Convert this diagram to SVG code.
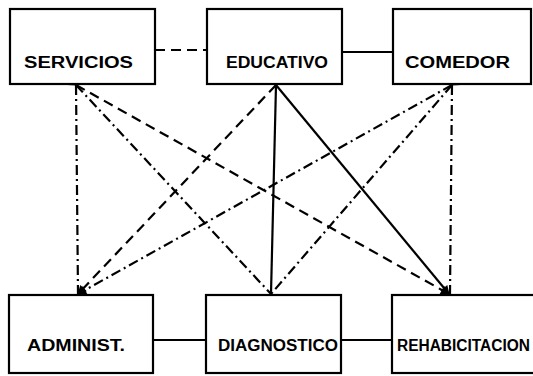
<svg xmlns="http://www.w3.org/2000/svg" width="533" height="376" viewBox="0 0 533 376">
<style>
.box{fill:#fff;stroke:#000;stroke-width:2.2}
.lbl{font-family:"Liberation Sans",Arial,sans-serif;font-weight:bold;font-size:16px;fill:#000}
.c{fill:none;stroke:#000;stroke-width:2.2}
.solid{stroke-width:2.2}
.dash{stroke-dasharray:10 6}
.dd{stroke-dasharray:10 4 2 4}
</style>
<defs>
<marker id="ah" viewBox="0 0 10 10" refX="9" refY="5" markerWidth="11" markerHeight="9" markerUnits="userSpaceOnUse" orient="auto">
<path d="M0,0 L10,5 L0,10 Z" fill="#000"/>
</marker>
</defs>
<rect width="533" height="376" fill="#fff"/>
<g id="connectors">
<line class="c dash" x1="155" y1="50" x2="207" y2="50"/>
<line class="c solid" x1="342" y1="52" x2="393" y2="52"/>
<line class="c solid" x1="153" y1="340" x2="206" y2="340"/>
<line class="c solid" x1="341" y1="340" x2="392" y2="340"/>
<line class="c dd" x1="76" y1="85" x2="78" y2="294"/>
<line class="c dash" x1="76" y1="85" x2="449" y2="294" marker-start="url(#ah)" marker-end="url(#ah)"/>
<line class="c dd" x1="76" y1="85" x2="271" y2="294" marker-start="url(#ah)"/>
<line class="c dash" x1="276" y1="85" x2="78" y2="294" marker-end="url(#ah)"/>
<line class="c solid" x1="276" y1="85" x2="271" y2="294" marker-start="url(#ah)"/>
<line class="c solid" x1="276" y1="85" x2="449" y2="294" marker-end="url(#ah)"/>
<line class="c dd" x1="452" y1="85" x2="78" y2="294" marker-start="url(#ah)" marker-end="url(#ah)"/>
<line class="c dd" x1="452" y1="85" x2="271" y2="294" marker-start="url(#ah)"/>
<line class="c dd" x1="452" y1="85" x2="450" y2="294"/>
</g>
<g id="servicios">
<rect class="box" x="10" y="9" width="145" height="75"/>
<text class="lbl" x="24" y="68" textLength="109" lengthAdjust="spacingAndGlyphs">SERVICIOS</text>
</g>
<g id="educativo">
<rect class="box" x="207" y="9" width="135" height="75"/>
<text class="lbl" x="226" y="68" textLength="102" lengthAdjust="spacingAndGlyphs">EDUCATIVO</text>
</g>
<g id="comedor">
<rect class="box" x="393" y="9" width="138" height="75"/>
<text class="lbl" x="405" y="68" textLength="105" lengthAdjust="spacingAndGlyphs">COMEDOR</text>
</g>
<g id="administ">
<rect class="box" x="9" y="295" width="144" height="78"/>
<text class="lbl" x="27" y="351" textLength="98" lengthAdjust="spacingAndGlyphs">ADMINIST.</text>
</g>
<g id="diagnostico">
<rect class="box" x="206" y="295" width="135" height="78"/>
<text class="lbl" x="218" y="351" textLength="120" lengthAdjust="spacingAndGlyphs">DIAGNOSTICO</text>
</g>
<g id="rehabilitacion">
<rect class="box" x="392" y="295" width="145" height="78"/>
<text class="lbl" x="397" y="351" textLength="133" lengthAdjust="spacingAndGlyphs">REHABICITACION</text>
</g>
</svg>
